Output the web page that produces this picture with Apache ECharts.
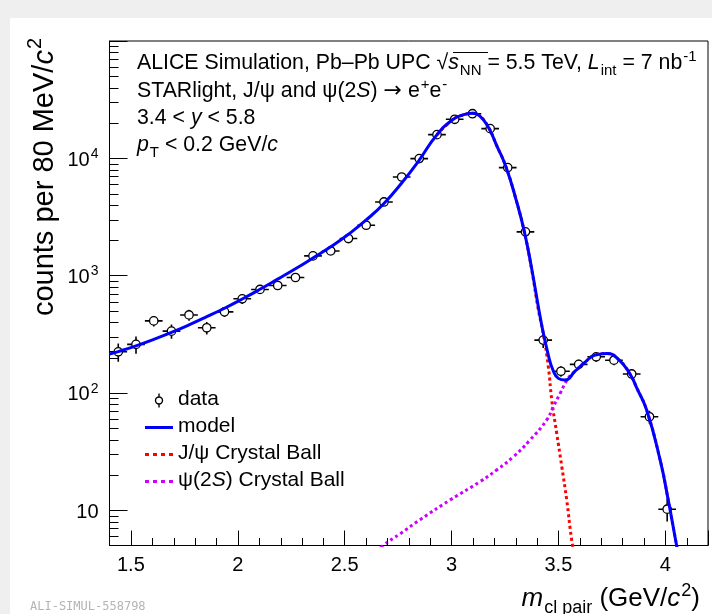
<!DOCTYPE html>
<html><head><meta charset="utf-8">
<script src="https://cdn.jsdelivr.net/npm/echarts@6/dist/echarts.min.js"></script>
<style>
html,body{margin:0;padding:0;background:#efefef;width:712px;height:614px;overflow:hidden;}
#c{position:absolute;left:10px;top:18px;width:702px;height:596px;background:#fff;}
</style></head><body><div id="c"></div>
<script>
// ---------------- data ----------------
const binCenters = [1.441, 1.524, 1.607, 1.690, 1.772, 1.855, 1.938, 2.021, 2.104, 2.187, 2.270, 2.352,
  2.435, 2.518, 2.601, 2.684, 2.767, 2.849, 2.932, 3.015, 3.098, 3.181, 3.263, 3.346,
  3.429, 3.512, 3.595, 3.677, 3.760, 3.843, 3.926, 4.009];
const counts = [224, 259, 411, 336, 462, 359, 491, 634, 762, 823, 963, 1472,
  1623, 2070, 2687, 4245, 6930, 9940, 15900, 21500, 24000, 17900, 8330, 2360,
  282, 153, 175, 203, 190, 145, 62.6, 10.2];
const countErrors = [40, 43, 42, 46, 50, 44, 48, 62, 65, 70, 75, 90,
  95, 110, 120, 150, 200, 240, 300, 350, 370, 320, 220, 120,
  41, 16, 17, 19, 18, 15, 8, 2.2];
const binHalfWidth = 0.0414;

const modelMass = [1.40, 1.441, 1.524, 1.607, 1.690, 1.772, 1.855, 1.938, 2.021, 2.104, 2.187, 2.270,
  2.352, 2.435, 2.518, 2.601, 2.684, 2.767, 2.849, 2.932, 3.008, 3.050, 3.100, 3.133,
  3.172, 3.211, 3.255, 3.305, 3.341, 3.375, 3.422, 3.453, 3.475, 3.500, 3.531, 3.578,
  3.625, 3.671, 3.726, 3.780, 3.835, 3.867, 3.913, 3.976, 4.014, 4.054, 4.065];
const modelCounts = [214, 225, 252, 286, 328, 380, 446, 527, 631, 764, 933, 1143,
  1413, 1758, 2249, 2979, 4121, 6166, 9661, 15900, 21500, 23300, 24200, 22900,
  18500, 12900, 8430, 4250, 2360, 1150, 378, 210, 156, 133, 128.5, 153,
  183, 210, 217, 194, 145, 110, 71.4, 26.8, 12.2, 4.9, 3.9];

const jpsiMass = [2.932, 3.008, 3.050, 3.100, 3.133, 3.172, 3.211, 3.255, 3.305, 3.341, 3.375, 3.406,
  3.429, 3.453, 3.469, 3.492, 3.516, 3.539, 3.562, 3.575];
const jpsiCounts = [15900, 21500, 23300, 24200, 22900, 18500, 12900, 8430, 4250, 2350, 1130, 515,
  323, 167, 87, 45.5, 23.5, 12.2, 5.6, 4.2];

const psi2sMass = [2.650, 2.680, 2.760, 2.853, 2.993, 3.133, 3.211, 3.289, 3.367, 3.445, 3.476, 3.508,
  3.546, 3.578, 3.625, 3.671, 3.726, 3.780, 3.835, 3.867, 3.913, 3.976, 4.014, 4.054, 4.065];
const psi2sCounts = [4.4, 5.0, 6.3, 8.3, 12.2, 17.5, 22, 28.5, 39.6, 58.6, 76, 99,
  133, 153, 183, 210, 217, 194, 145, 110, 71.4, 26.8, 12.2, 4.9, 3.9];

const xTickValues = [1.5, 2, 2.5, 3, 3.5, 4];
const xTickLabels = ['1.5', '2', '2.5', '3', '3.5', '4'];
const xMinorTickValues = [1.6, 1.7, 1.8, 1.9, 2.1, 2.2, 2.3, 2.4, 2.6, 2.7, 2.8, 2.9,
  3.1, 3.2, 3.3, 3.4, 3.6, 3.7, 3.8, 3.9, 4.1];
const yTickValues = [10, 100, 1000, 10000];
const yTickLabels = ['10', '10^2', '10^3', '10^4'];
const yMinorTickValues = [6, 7, 8, 9, 20, 30, 40, 50, 60, 70, 80, 90,
  200, 300, 400, 500, 600, 700, 800, 900, 2000, 3000, 4000, 5000, 6000, 7000, 8000, 9000,
  20000, 30000, 40000, 50000, 60000, 70000, 80000, 90000];
const xRange = [1.4, 4.2];
const yRange = [5, 100000];

// ---------------- helpers ----------------
const FONT = "'Liberation Sans', Arial, Helvetica, sans-serif";
function richSet(F, padTop) {
  const pt = padTop == null ? Math.round(0.2 * F - 1) : padTop;
  const base = {fontSize: F, fontFamily: FONT, color: '#000', fill: '#000', lineHeight: F + 2,
    padding: [pt, 0, 0, 0], verticalAlign: 'top'};
  const small = Math.round(0.7 * F);
  return {
    n: base,
    i: Object.assign({}, base, {fontStyle: 'italic'}),
    a: Object.assign({}, base, {fontFamily: "'DejaVu Sans', sans-serif", fontSize: Math.round(F * 1.05)}),
    sup: {fontSize: small, fontFamily: FONT, color: '#000', fill: '#000', lineHeight: small,
      padding: [0, 0, 0, 1], verticalAlign: 'top'},
    sub: {fontSize: small, fontFamily: FONT, color: '#000', fill: '#000', lineHeight: small,
      padding: [Math.round(pt + 0.45 * F + 1), 0, 0, 1], verticalAlign: 'top'}
  };
}
function textEl(text, F, x, y, align, extra) {
  return Object.assign({
    type: 'text', x: x, y: y, silent: true,
    style: {text: text, rich: richSet(F), fontSize: F, fontFamily: FONT, fill: '#000',
      align: align, textAlign: align, verticalAlign: 'middle', textVerticalAlign: 'middle'}
  }, extra || {});
}

const dataPoints = binCenters.map((m, i) => [m, counts[i], countErrors[i]]);
const tickMarks = xMinorTickValues.map(v => [v, yRange[0], 0])
  .concat(yMinorTickValues.map(v => [xRange[0], v, 1]));

function renderData(params, api) {
  const x = api.value(0), y = api.value(1), e = api.value(2);
  const c = api.coord([x, y]);
  const l = api.coord([x - binHalfWidth, y]);
  const r = api.coord([x + binHalfWidth, y]);
  const t = api.coord([x, y + e]);
  const b = api.coord([x, y - e]);
  const rad = 4.2;
  const ls = {stroke: '#000', lineWidth: 1.6};
  const ch = [
    {type: 'line', shape: {x1: l[0], y1: c[1], x2: c[0] - rad, y2: c[1]}, style: ls},
    {type: 'line', shape: {x1: c[0] + rad, y1: c[1], x2: r[0], y2: c[1]}, style: ls}
  ];
  if (c[1] - t[1] > rad) ch.push({type: 'line', shape: {x1: c[0], y1: t[1], x2: c[0], y2: c[1] - rad}, style: ls});
  if (b[1] - c[1] > rad) ch.push({type: 'line', shape: {x1: c[0], y1: c[1] + rad, x2: c[0], y2: b[1]}, style: ls});
  ch.push({type: 'circle', shape: {cx: c[0], cy: c[1], r: rad}, style: {fill: 'rgba(255,255,255,0)', stroke: '#000', lineWidth: 1.3}});
  return {type: 'group', children: ch};
}
function renderTicks(params, api) {
  const p = api.coord([api.value(0), api.value(1)]);
  const isY = api.value(2) === 1;
  if (isY) {
    const yy = Math.round(p[1]) + 0.5;
    return {type: 'line', shape: {x1: p[0], y1: yy, x2: p[0] + 9, y2: yy}, style: {stroke: '#000', lineWidth: 1}};
  }
  const xx = Math.round(p[0]) + 0.5;
  return {type: 'line', shape: {x1: xx, y1: p[1], x2: xx, y2: p[1] - 7.5}, style: {stroke: '#000', lineWidth: 1}};
}

const chart = echarts.init(document.getElementById('c'), null, {renderer: 'canvas'});
const axisRich = {
  b: {fontSize: 20, fontFamily: FONT, color: '#000', lineHeight: 22, padding: [3, 0, 0, 0], verticalAlign: 'top'},
  s: {fontSize: 14, fontFamily: FONT, color: '#000', lineHeight: 14, padding: [0, 0, 0, 1], verticalAlign: 'top'}
};
const legendRich = richSet(21, 0);

const solidIcon = 'path://M0,0L28,0L28,3L0,3Z';
const dotIcon = 'path://M0,0h4v3h-4zM8,0h4v3h-4zM16,0h4v3h-4zM24,0h4v3h-4z';

chart.setOption({
  animation: false,
  grid: {left: 99.5, right: 4, top: 23, bottom: 68.5, show: true, borderColor: '#000', borderWidth: 1, backgroundColor: 'transparent'},
  xAxis: {
    type: 'value', min: xRange[0], max: xRange[1],
    splitLine: {show: false},
    axisLine: {lineStyle: {color: '#000', width: 1}},
    axisTick: {inside: true, length: 15, lineStyle: {color: '#000', width: 1}},
    axisLabel: {margin: 10, fontSize: 20, fontFamily: FONT, color: '#000', showMinLabel: true, showMaxLabel: true,
      formatter: v => { const k = xTickValues.findIndex(t => Math.abs(t - v) < 1e-6); return k < 0 ? '' : xTickLabels[k]; }}
  },
  yAxis: {
    type: 'log', logBase: 10, min: yRange[0], max: yRange[1],
    splitLine: {show: false},
    axisLine: {lineStyle: {color: '#000', width: 1}},
    axisTick: {inside: true, length: 18, lineStyle: {color: '#000', width: 1}},
    axisLabel: {margin: 11, fontSize: 20, fontFamily: FONT, color: '#000', rich: axisRich,
      formatter: v => {
        const k = yTickValues.findIndex(t => Math.abs(t - v) / t < 1e-6);
        if (k < 0) return '';
        const parts = yTickLabels[k].split('^');
        return parts.length > 1 ? '{b|' + parts[0] + '}{s|' + parts[1] + '}' : '{b|' + parts[0] + '}';
      }}
  },
  legend: {
    orient: 'vertical', left: 135, top: 371, padding: 0, itemWidth: 28, itemHeight: 14, itemGap: 6,
    selectedMode: false,
    textStyle: {fontSize: 21, fontFamily: FONT, color: '#000', rich: legendRich},
    formatter: name => name === 'ψ(2S) Crystal Ball' ? '{n|ψ(2}{i|S}{n|) Crystal Ball}' : '{n|' + name + '}',
    data: [
      {name: 'data', icon: 'path://M4,0L4,3.6M4,12.4L4,16M8,8A4,4,0,1,1,0,8A4,4,0,1,1,8,8Z',
        itemStyle: {color: 'rgba(255,255,255,0)', borderColor: '#000', borderWidth: 1.4}},
      {name: 'model', icon: solidIcon, itemStyle: {color: '#0000ff', borderWidth: 0}},
      {name: 'J/ψ Crystal Ball', icon: dotIcon, itemStyle: {color: '#ff0000', borderWidth: 0}},
      {name: 'ψ(2S) Crystal Ball', icon: dotIcon, itemStyle: {color: '#cc00ff', borderWidth: 0}}
    ]
  },
  series: [
    {name: 'data', type: 'custom', renderItem: renderData, data: dataPoints, dimensions: ['m', 'n', 'err'],
      encode: {x: 0, y: 1}, itemStyle: {color: '#000'}, z: 2, clip: true, silent: true},
    {name: 'J/ψ Crystal Ball', type: 'line', data: jpsiMass.map((m, i) => [m, jpsiCounts[i]]),
      symbol: 'none', showSymbol: false, smooth: 0.5, clip: true, z: 3,
      lineStyle: {color: '#ff0000', width: 3, type: [3, 3]}, itemStyle: {color: '#ff0000'}},
    {name: 'ψ(2S) Crystal Ball', type: 'line', data: psi2sMass.map((m, i) => [m, psi2sCounts[i]]),
      symbol: 'none', showSymbol: false, smooth: 0.5, clip: true, z: 3,
      lineStyle: {color: '#cc00ff', width: 3, type: [3, 3]}, itemStyle: {color: '#cc00ff'}},
    {name: 'model', type: 'line', data: modelMass.map((m, i) => [m, modelCounts[i]]),
      symbol: 'none', showSymbol: false, smooth: 0.5, clip: true, z: 4,
      lineStyle: {color: '#0000ff', width: 3}, itemStyle: {color: '#0000ff'}},
    {name: 'ticks', type: 'custom', renderItem: renderTicks, data: tickMarks, encode: {x: 0, y: 1},
      z: 5, silent: true, clip: false}
  ],
  graphic: [
    textEl('{n|ALICE Simulation, Pb–Pb UPC √}{i|s}{sub|NN}{n| = 5.5 TeV, }{i|L}{sub|int}{n| = 7 nb}{sup|-1}', 21.3, 127, 43, 'left'),
    {type: 'line', silent: true, shape: {x1: 443, y1: 34.5, x2: 478, y2: 34.5}, style: {stroke: '#000', lineWidth: 1.2}},
    textEl('{n|STARlight, J/ψ and ψ(2}{i|S}{n|) }{a|→}{n| e}{sup|+}{n|e}{sup|-}', 21.3, 127, 71, 'left'),
    textEl('{n|3.4 < }{i|y}{n| < 5.8}', 21.3, 127, 98, 'left'),
    textEl('{i|p}{sub|T}{n| < 0.2 GeV/}{i|c}', 21.3, 127, 125, 'left'),
    textEl('{n|counts per 80 MeV/}{i|c}{sup|2}', 29, 31, 20, 'right', {rotation: Math.PI / 2}),
    textEl('{i|m}{sub|cl pair}{n| (GeV/}{i|c}{sup|2}{n|)}', 26, 690, 578, 'right'),
    {type: 'text', x: 20, y: 589, silent: true,
      style: {text: 'ALI-SIMUL-558798', fontSize: 12, fontFamily: "'DejaVu Sans Mono', monospace", fill: '#b4b4b4',
        align: 'left', textAlign: 'left', verticalAlign: 'middle', textVerticalAlign: 'middle'}}
  ]
});
</script></body></html>
